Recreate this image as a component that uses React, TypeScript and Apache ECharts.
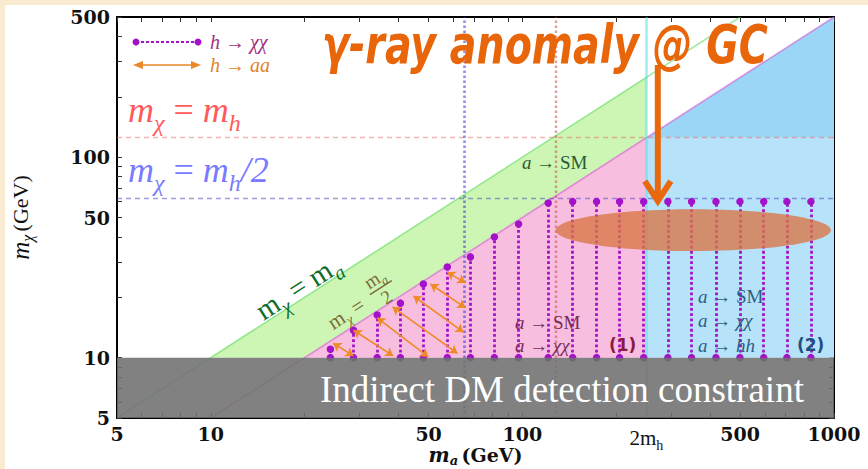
import React, { useEffect, useRef } from "react";
import * as echarts from "echarts";

// ---------- axes ----------
const xMin = 5;
const xMax = 1000;
const yMin = 5;
const yMax = 500;
const xTickValues = [5, 6, 7, 8, 9, 10, 20, 30, 40, 50, 60, 70, 80, 90, 100, 200, 300, 400, 500, 600, 700, 800, 900, 1000];
const xLabelValues = [5, 10, 50, 100, 250, 500, 1000];
const yTickValues = [5, 6, 7, 8, 9, 10, 20, 30, 40, 50, 60, 70, 80, 90, 100, 200, 300, 400, 500];
const yLabelValues = [5, 10, 50, 100, 500];

// ---------- reference lines ----------
const lineMchiEqMa = [[5, 5], [500, 500]];
const lineMchiEqHalfMa = [[10, 5], [1000, 500]];
const mH = 125;
const mHHalf = 62.5;
const twoMh = 250;
const redDottedX = 128;
const blueDottedX = 65;

// ---------- shaded regions ----------
const greenRegion = [[10, 10], [20, 10], [250, 125], [250, 250]];
const pinkRegion = [[20, 10], [250, 10], [250, 125]];
const blueLowRegion = [[250, 10], [1000, 10], [1000, 125], [250, 125]];
const blueHighRegion = [[250, 125], [1000, 125], [1000, 500]];
const grayRegion = [[5, 5], [1000, 5], [1000, 10], [5, 10]];

// ---------- h -> chi chi (dotted purple segments) ----------
const hxxX = [24.2, 28.7, 34.2, 40.6, 48.1, 57.4, 68.1, 81.3, 97.2, 121, 145, 173, 205, 245, 293, 349, 418, 499, 595, 706, 843];
const hxxTop = [11.0, 13.7, 16.3, 18.7, 23.3, 28.3, 31.8, 40, 46.4, 59, 60, 60, 60, 60, 60, 60, 60, 60, 60, 60, 60];
const hxxBottom = [10, 10, 10, 10, 10, 10, 10, 10, 10, 10, 10, 10, 10, 10, 10, 10, 10, 10, 10, 10, 10];

// ---------- h -> aa (orange double arrows) ----------
const haaStart = [[24.7, 11.8], [28.7, 13.7], [34.2, 15.8], [38.3, 17.9], [44.7, 20.3], [50.7, 23.3], [57.4, 26.7]];
const haaEnd = [[28.7, 10.2], [38.5, 10.2], [49.9, 10.1], [61.9, 10.5], [64.7, 13.4], [65.6, 17.7], [65.6, 23.6]];

// ---------- GC annotation ----------
const gcEllipseBox = [[128, 34], [977, 55]];
const gcArrow = [[272, 288], [272, 59]];

const serif = "'Liberation Serif','Times New Roman',serif";
const boldSerif = "'DejaVu Serif',serif";

function rich(size: number, color: string) {
  return {
    i: { fontFamily: serif, fontStyle: "italic", fontSize: size, fill: color, color, verticalAlign: "middle" },
    r: { fontFamily: serif, fontSize: size, fill: color, color, verticalAlign: "middle" },
    s: {
      fontFamily: serif,
      fontStyle: "italic",
      fontSize: Math.round(size * 0.68),
      fill: color,
      color,
      padding: [Math.round(size * 0.7), 0, 0, 0],
      verticalAlign: "middle",
    },
    b: { fontFamily: "'DejaVu Sans',sans-serif", fontWeight: "bold", fontSize: size, fill: color, color, verticalAlign: "middle" },
  };
}

function txt(x: number, y: number, text: string, size: number, color: string, extra: any = {}) {
  return {
    type: "text",
    x,
    y,
    z: 100,
    silent: true,
    ...extra,
    style: {
      text,
      rich: rich(size, color),
      fill: color,
      font: `${size}px ${serif}`,
      align: "left",
      verticalAlign: "middle",
      ...(extra.style || {}),
    },
  };
}

function polygonSeries(points: number[][], color: string, z: number) {
  return {
    type: "custom",
    coordinateSystem: "cartesian2d",
    z,
    silent: true,
    data: [points[0]],
    renderItem: (_p: any, api: any) => ({
      type: "polygon",
      shape: { points: points.map((p) => api.coord(p)) },
      style: { fill: color },
    }),
  };
}

export default function App() {
  const ref = useRef<HTMLDivElement>(null);
  useEffect(() => {
    document.body.style.margin = "0";
    const chart = echarts.init(ref.current!, null, { renderer: "svg" });

    const axisLine = { show: true, onZero: false, lineStyle: { color: "#000", width: 2 } };
    const tickStyle = { color: "#333", width: 1 };
    const labelRich = {
      n: { fontFamily: boldSerif, fontWeight: "bold", fontSize: 19, color: "#111" },
      m: { fontFamily: serif, fontSize: 21, color: "#111" },
      h: { fontFamily: serif, fontSize: 14, color: "#111", padding: [14, 0, 0, 0] },
    };
    const xFormatter = (v: number) => (Math.round(v) === twoMh ? "{m|2m}{h|h}" : "{n|" + Math.round(v) + "}");
    const yFormatter = (v: number) => "{n|" + Math.round(v) + "}";

    const option: any = {
      animation: false,
      grid: { left: 117, right: 34, top: 17, bottom: 51, outerBoundsMode: "none" },
      xAxis: [
        {
          type: "log",
          logBase: 10,
          min: xMin,
          max: xMax,
          position: "bottom",
          axisLine,
          splitLine: { show: false },
          axisTick: { show: true, inside: true, length: 5, customValues: xTickValues, lineStyle: tickStyle },
          axisLabel: { customValues: xLabelValues, formatter: xFormatter, rich: labelRich, margin: 6 },
          name: "{m|m}{s|a} {g|(GeV)}",
          nameLocation: "middle",
          nameGap: 25,
          nameMoveOverlap: false,
          nameTextStyle: {
            rich: {
              m: { fontFamily: boldSerif, fontStyle: "italic", fontWeight: "bold", fontSize: 20, color: "#111" },
              s: { fontFamily: boldSerif, fontStyle: "italic", fontWeight: "bold", fontSize: 13, color: "#111", padding: [11, 0, 0, 0] },
              g: { fontFamily: boldSerif, fontWeight: "bold", fontSize: 19, color: "#111" },
            },
          },
        },
        {
          type: "log",
          logBase: 10,
          min: xMin,
          max: xMax,
          position: "top",
          axisLine,
          splitLine: { show: false },
          axisTick: { show: true, inside: true, length: 5, customValues: xTickValues, lineStyle: tickStyle },
          axisLabel: { show: false },
        },
      ],
      yAxis: [
        {
          type: "log",
          logBase: 10,
          min: yMin,
          max: yMax,
          position: "left",
          axisLine,
          splitLine: { show: false },
          axisTick: { show: true, inside: true, length: 5, customValues: yTickValues, lineStyle: tickStyle },
          axisLabel: { customValues: yLabelValues, formatter: yFormatter, rich: labelRich, margin: 7 },
          name: "{m|m}{s|χ} {g|(GeV)}",
          nameLocation: "middle",
          nameGap: 82,
          nameMoveOverlap: false,
          nameTextStyle: {
            rich: {
              m: { fontFamily: serif, fontStyle: "italic", fontSize: 25, color: "#111" },
              s: { fontFamily: serif, fontStyle: "italic", fontSize: 16, color: "#111", padding: [14, 0, 0, 0] },
              g: { fontFamily: serif, fontSize: 22, color: "#111" },
            },
          },
        },
        {
          type: "log",
          logBase: 10,
          min: yMin,
          max: yMax,
          position: "right",
          axisLine,
          splitLine: { show: false },
          axisTick: { show: true, inside: true, length: 5, customValues: yTickValues, lineStyle: tickStyle },
          axisLabel: { show: false },
        },
      ],
      series: [
        polygonSeries(greenRegion, "#cdf6b4", 1),
        polygonSeries(pinkRegion, "#f8bee0", 1),
        polygonSeries(blueLowRegion, "#b6e3f9", 1),
        polygonSeries(blueHighRegion, "#9cd6f6", 1),
        {
          type: "lines",
          coordinateSystem: "cartesian2d",
          z: 2,
          silent: true,
          data: [
            { coords: lineMchiEqMa, lineStyle: { color: "#45d645", width: 1.6 } },
            { coords: lineMchiEqHalfMa, lineStyle: { color: "#d43fd6", width: 1.6 } },
            { coords: [[xMin, mH], [xMax, mH]], lineStyle: { color: "#e86a6a", width: 1.3, type: [5, 4] } },
            { coords: [[xMin, mHHalf], [xMax, mHHalf]], lineStyle: { color: "#4040c0", width: 1.3, type: [5, 4] } },
            { coords: [[redDottedX, yMin], [redDottedX, yMax]], lineStyle: { color: "#c83c3c", width: 2.4, type: [2.4, 2.6] } },
            { coords: [[blueDottedX, yMin], [blueDottedX, yMax]], lineStyle: { color: "#2020c8", width: 2.6, type: [2.6, 2.4] } },
            { coords: [[twoMh, yMin], [twoMh, yMax]], lineStyle: { color: "#3ee0f0", width: 2.6 } },
          ],
        },
        {
          type: "lines",
          coordinateSystem: "cartesian2d",
          z: 4,
          silent: true,
          symbol: ["circle", "circle"],
          symbolSize: 7.5,
          lineStyle: { color: "#a312c9", width: 2.8, type: [2.8, 2.4], opacity: 1 },
          data: hxxX.map((x, i) => ({ coords: [[x, hxxBottom[i]], [x, hxxTop[i]]] })),
        },
        {
          type: "lines",
          coordinateSystem: "cartesian2d",
          z: 4,
          silent: true,
          symbol: ["arrow", "arrow"],
          symbolSize: 8,
          lineStyle: { color: "#f08a24", width: 1.6, opacity: 1 },
          data: haaStart.map((s, i) => ({ coords: [s, haaEnd[i]] })),
        },
        polygonSeries(grayRegion, "rgba(112,112,112,0.88)", 6),
        {
          type: "custom",
          coordinateSystem: "cartesian2d",
          z: 7,
          silent: true,
          data: [gcEllipseBox[0]],
          renderItem: (_p: any, api: any) => {
            const a = api.coord(gcEllipseBox[0]);
            const b = api.coord(gcEllipseBox[1]);
            return {
              type: "ellipse",
              shape: { cx: (a[0] + b[0]) / 2, cy: (a[1] + b[1]) / 2, rx: Math.abs(b[0] - a[0]) / 2, ry: Math.abs(b[1] - a[1]) / 2 },
              style: { fill: "rgba(216,116,68,0.78)" },
            };
          },
        },
        {
          type: "custom",
          coordinateSystem: "cartesian2d",
          z: 8,
          silent: true,
          data: [gcArrow[0]],
          renderItem: (_p: any, api: any) => {
            const a = api.coord(gcArrow[0]);
            const b = api.coord(gcArrow[1]);
            const st = { stroke: "#e8680e", lineWidth: 6, fill: null, lineJoin: "miter" };
            return {
              type: "group",
              children: [
                { type: "line", shape: { x1: a[0], y1: a[1], x2: b[0], y2: b[1] - 4 }, style: st },
                { type: "polyline", shape: { points: [[b[0] - 13, b[1] - 22], [b[0], b[1] - 2], [b[0] + 13, b[1] - 22]] }, style: st },
              ],
            };
          },
        },
        // keeps the mirrored top / right axes active
        {
          type: "custom",
          coordinateSystem: "cartesian2d",
          xAxisIndex: 1,
          yAxisIndex: 1,
          silent: true,
          data: [[xMin, yMin]],
          renderItem: () => ({ type: "group", children: [] }),
        },
      ],
      graphic: [
        // legend
        { type: "line", z: 100, shape: { x1: 136, y1: 42, x2: 198, y2: 42 }, style: { stroke: "#a312c9", lineWidth: 2, lineDash: [3, 2] } },
        { type: "circle", z: 100, shape: { cx: 136, cy: 42, r: 3.5 }, style: { fill: "#a312c9" } },
        { type: "circle", z: 100, shape: { cx: 198, cy: 42, r: 3.5 }, style: { fill: "#a312c9" } },
        { type: "line", z: 100, shape: { x1: 138, y1: 65, x2: 196, y2: 65 }, style: { stroke: "#e8882a", lineWidth: 1.6 } },
        { type: "polygon", z: 100, shape: { points: [[133, 65], [143, 61], [143, 69]] }, style: { fill: "#e8882a" } },
        { type: "polygon", z: 100, shape: { points: [[201, 65], [191, 61], [191, 69]] }, style: { fill: "#e8882a" } },
        txt(210, 42, "{i|h} → {i|χχ}", 20, "#a0307f"),
        txt(210, 65, "{i|h} → {i|aa}", 20, "#e0842a"),
        // title
        {
          type: "text",
          x: 322,
          y: 45,
          z: 100,
          scaleX: 0.83,
          style: {
            text: "γ-ray anomaly @ GC",
            fill: "#e8650a",
            font: "italic bold 53px 'DejaVu Sans Condensed','DejaVu Sans',sans-serif",
            align: "left",
            verticalAlign: "middle",
          },
        },
        // mass relations
        txt(128, 110, "{i|m}{s|χ}{r| = }{i|m}{s|h}", 36, "#ff5a5a"),
        txt(128, 170, "{i|m}{s|χ}{r| = }{i|m}{s|h}{i|/2}", 36, "#7a7aff"),
        txt(298, 287, "{r|m}{s|χ}{r| = }{r|m}{s|a}", 29, "#0c6e2a", {
          rotation: 0.572,
          style: { align: "center" },
        }),
        {
          type: "group",
          x: 366,
          y: 296,
          rotation: 0.572,
          z: 100,
          children: [
            txt(-46, 4, "{r|m}{s|χ}{r| =}", 21, "#7b6b38"),
            txt(6, -10, "{r|m}{s|a}", 19, "#7b6b38"),
            { type: "line", z: 100, shape: { x1: 4, y1: 1, x2: 30, y2: 1 }, style: { stroke: "#7b6b38", lineWidth: 1.5 } },
            txt(12, 12, "{r|2}", 19, "#7b6b38"),
          ],
        },
        // decay labels
        txt(522, 162, "{i|a} → SM", 19, "#2b5a35"),
        txt(515, 322, "{i|a} → SM", 19, "#7a2d55"),
        txt(515, 345, "{i|a} → {i|χχ}", 19, "#7a2d55"),
        txt(609, 345, "{b|(1)}", 17, "#8b1a3f"),
        txt(698, 296, "{i|a} → SM", 19, "#2a5f85"),
        txt(698, 320, "{i|a} → {i|χχ}", 19, "#2a5f85"),
        txt(698, 345, "{i|a} → {i|hh}", 19, "#2a5f85"),
        txt(797, 345, "{b|(2)}", 17, "#1d4f7f"),
        // constraint
        {
          type: "text",
          x: 320,
          y: 389,
          z: 100,
          style: { text: "Indirect DM detection constraint", fill: "#ffffff", font: `37px ${serif}`, align: "left", verticalAlign: "middle" },
        },
      ],
    };

    chart.setOption(option);
    return () => chart.dispose();
  }, []);

  return (
    <div style={{ position: "relative", width: 868, height: 469, background: "#f8ebcf", overflow: "hidden" }}>
      <div style={{ position: "absolute", left: 5, top: 5, right: 0, bottom: 0, background: "#ffffff" }} />
      <div ref={ref} style={{ position: "absolute", left: 0, top: 0, width: 868, height: 469 }} />
    </div>
  );
}
